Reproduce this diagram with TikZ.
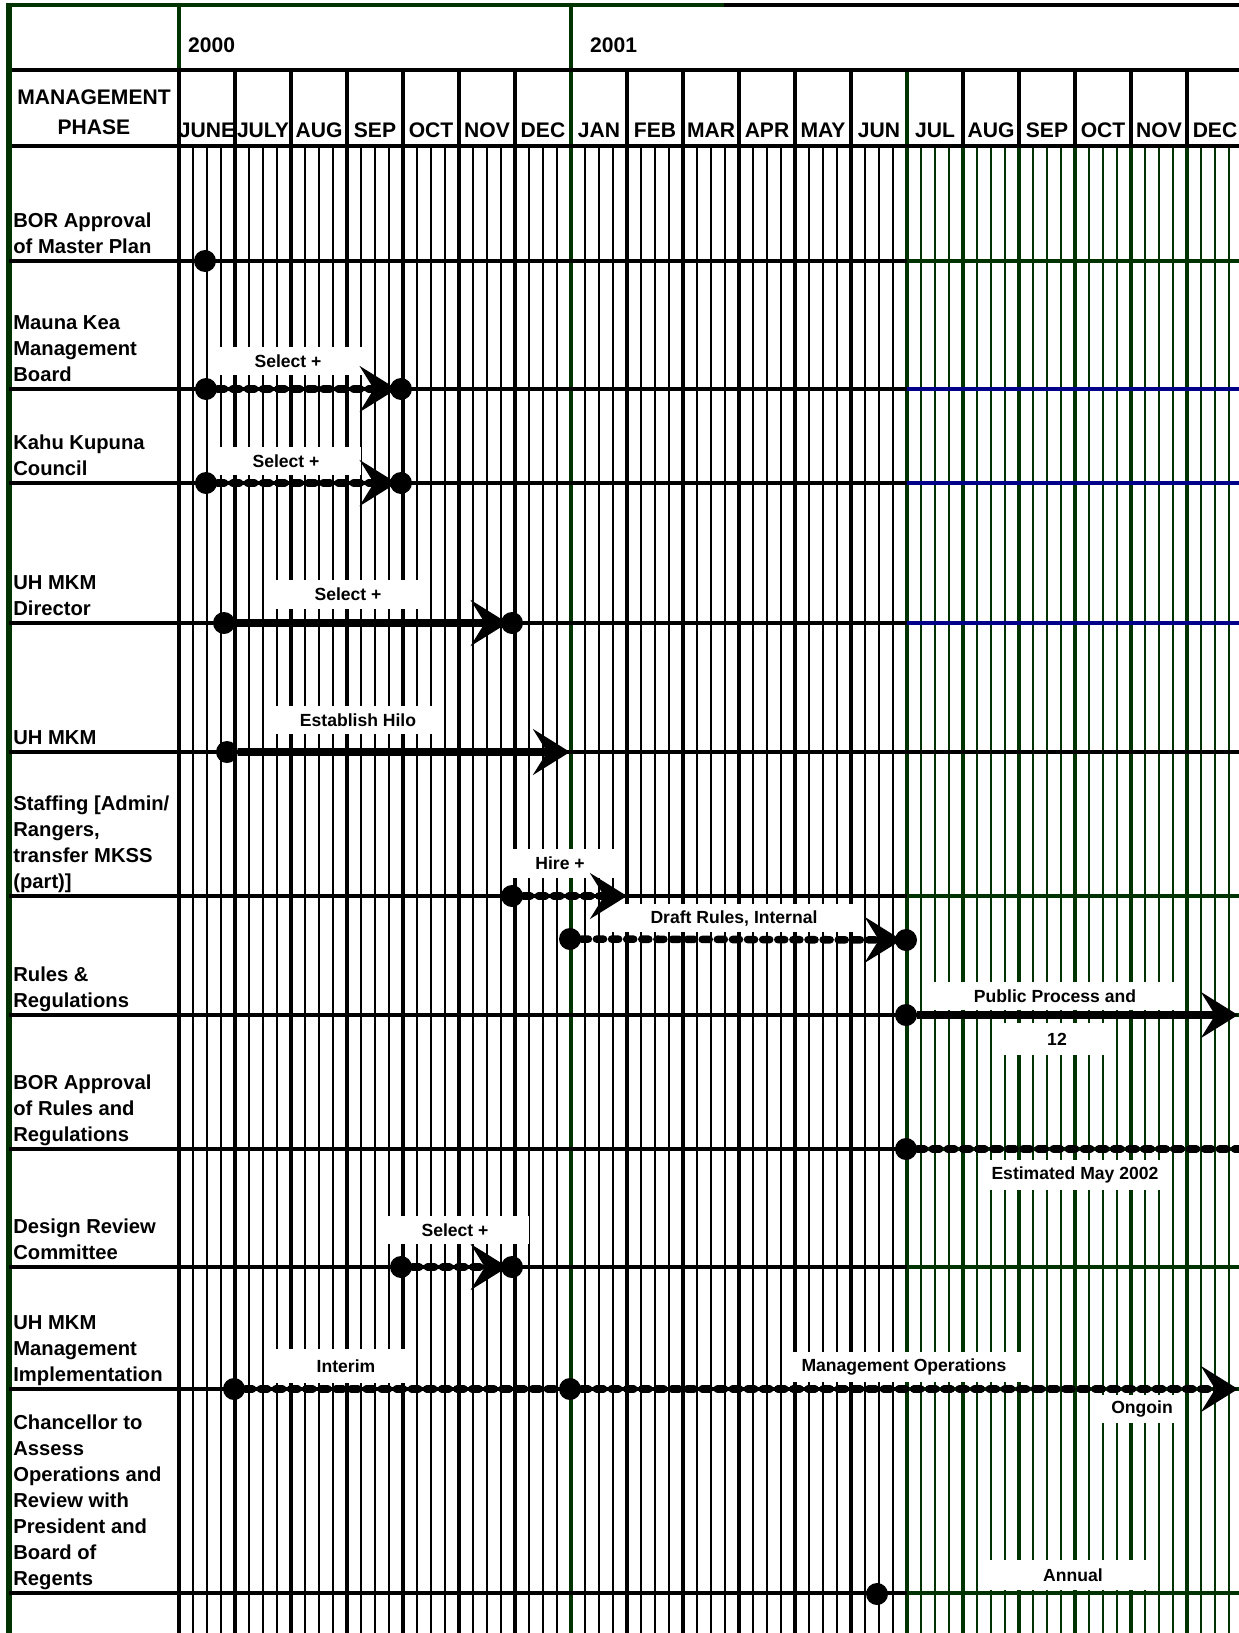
\documentclass[tikz,border=0pt]{standalone}
\usepackage{fontspec}
\setmainfont{Liberation Sans}
\usetikzlibrary{arrows.meta}

\definecolor{chartgreen}{RGB}{0,51,0}
\definecolor{chartblue}{RGB}{0,0,136}

\tikzset{
    monthlabel/.style={anchor=base, font=\fontsize{12}{17}\selectfont\bfseries},
    phaselabel/.style={anchor=south west, inner sep=0pt, align=left, font=\fontsize{11.5}{14.8}\selectfont\bfseries},
    barlabel/.style={fill=white, inner sep=0pt, font=\fontsize{10}{12}\selectfont\bfseries},
    milestone/.style={circle, fill=black, inner sep=0pt, minimum size=0.44cm},
    barline/.style={line width=4.3pt},
    bar/.style={barline, -{Stealth[length=21pt, width=26pt, inset=8pt]}},
    dashline/.style={barline, line cap=round, dash pattern=on 4pt off 4.6pt},
    dashbar/.style={dashline, -{Stealth[length=21pt, width=26pt, inset=8pt]}},
    tomilestone/.style={shorten >=-4pt},
}

\begin{document}
\begin{tikzpicture}[x=0.02cm, y=-0.02cm]
    \useasboundingbox (0,0) rectangle (1239,1633);

    % Header texts
    \node[monthlabel, anchor=base west] (y2000) at (182,52) {2000};
    \node[monthlabel, anchor=base west] (y2001) at (584,52) {2001};
    \node[monthlabel, anchor=south, align=center, inner sep=0pt] (phasehead) at (94,144) {MANAGEMENT\\PHASE\strut};
    \foreach \m [count=\k from 0] in {JUNE,JULY,AUG,SEP,OCT,NOV,DEC,JAN,FEB,MAR,APR,MAY,JUN,JUL,AUG,SEP,OCT,NOV,DEC}
        \node[monthlabel] (month\k) at (207+56*\k,137) {\m};

    % Week lines
    \foreach \k in {0,...,18} {
        \ifnum\k<13 \def\gc{black}\else\def\gc{chartgreen}\fi
        \foreach \j in {1,2,3}
            \draw[\gc, line width=1.1pt] (179+56*\k+14*\j,146) -- (179+56*\k+14*\j,1633);
    }

    % Month lines
    \foreach \k in {1,...,18} {
        \ifnum\k<13 \def\gc{black}\else\def\gc{chartgreen}\fi
        \draw[line width=1.9pt] (179+56*\k,70) -- (179+56*\k,146);
        \draw[\gc, line width=1.9pt] (179+56*\k,146) -- (179+56*\k,1633);
    }
    \draw[chartgreen, line width=1.9pt] (907,70) -- (907,146);

    % Year lines and frame
    \draw[chartgreen, line width=2.6pt] (179,5) -- (179,70);
    \draw[line width=2.6pt] (179,70) -- (179,1633);
    \draw[chartgreen, line width=2.6pt] (571,5) -- (571,1633);
    \draw[chartgreen, line width=2.8pt] (8,5) -- (724,5);
    \draw[line width=2.8pt] (724,5) -- (1239,5);
    \draw[line width=2.8pt] (8,70) -- (1239,70);
    \draw[line width=2.8pt] (8,146) -- (1239,146);
    \draw[chartgreen, line width=3pt] (9,3) -- (9,1633);

    % Row lines
    \foreach \y/\c in {261/chartgreen, 389/chartblue, 483/chartblue, 623/chartblue, 752/black,
                       896/chartgreen, 1015/chartgreen, 1149/chartgreen, 1267/chartgreen,
                       1389/chartgreen, 1593/chartgreen} {
        \draw[line width=1.9pt] (9,\y) -- (907,\y);
        \draw[\c, line width=1.9pt] (907,\y) -- (1239,\y);
    }

    % Phases
    \node[phaselabel] (borplan) at (13,262) {BOR Approval\\of Master Plan\strut};
    \node[phaselabel] (board) at (13,390) {Mauna Kea\\Management\\Board\strut};
    \node[phaselabel] (council) at (13,484) {Kahu Kupuna\\Council\strut};
    \node[phaselabel] (director) at (13,624) {UH MKM\\Director\strut};
    \node[phaselabel] (office) at (13,753) {UH MKM\strut};
    \node[phaselabel] (staffing) at (13,897) {Staffing [Admin/\\Rangers,\\transfer MKSS\\(part)]\strut};
    \node[phaselabel] (rules) at (13,1016) {Rules \&\\Regulations\strut};
    \node[phaselabel] (borrules) at (13,1150) {BOR Approval\\of Rules and\\Regulations\strut};
    \node[phaselabel] (design) at (13,1268) {Design Review\\Committee\strut};
    \node[phaselabel] (mgmt) at (13,1390) {UH MKM\\Management\\Implementation\strut};
    \node[phaselabel] (chancellor) at (13,1594) {Chancellor to\\Assess\\Operations and\\Review with\\President and\\Board of\\Regents\strut};

    % Bar labels
    \node[barlabel, minimum width=3cm, minimum height=0.56cm] (boardsel) at (288,361) {Select +};
    \node[barlabel, minimum width=3cm, minimum height=0.56cm] (councilsel) at (286,461) {Select +};
    \node[barlabel, minimum width=2.96cm, minimum height=0.58cm] (directorsel) at (348,594) {Select +};
    \node[barlabel, minimum width=3.44cm, minimum height=0.56cm] (hilo) at (358,720) {Establish Hilo};
    \node[barlabel, minimum width=2.22cm, minimum height=0.58cm] (hire) at (560,863) {Hire +};
    \node[barlabel, minimum width=5cm, minimum height=0.56cm] (draft) at (734,918) {Draft Rules, Internal};
    \node[barlabel, minimum width=5cm, minimum height=0.56cm] (public) at (1055,996) {Public Process and};
    \node[barlabel, minimum width=2.16cm, minimum height=0.64cm] (twelve) at (1057,1039) {12};
    \node[barlabel, minimum width=3.86cm, minimum height=0.6cm] (estimated) at (1075,1175) {Estimated May 2002};
    \node[barlabel, minimum width=2.98cm, minimum height=0.56cm] (designsel) at (455,1230) {Select +};
    \node[barlabel, minimum width=2.8cm, minimum height=0.68cm] (interim) at (346,1366) {Interim};
    \node[barlabel, minimum width=4.8cm, minimum height=0.6cm] (operations) at (904,1367) {Management Operations};
    \node[barlabel, minimum width=1.68cm, minimum height=0.56cm] (ongoin) at (1142,1409) {Ongoin};
    \node[barlabel, minimum width=3.32cm, minimum height=0.6cm] (annual) at (1073,1575) {Annual};

    % Milestones
    \node[milestone] (borplan1) at (205,261) {};
    \node[milestone] (board1) at (206,389) {};
    \node[milestone] (board2) at (401,389) {};
    \node[milestone] (council1) at (206,483) {};
    \node[milestone] (council2) at (401,483) {};
    \node[milestone] (director1) at (224,623) {};
    \node[milestone] (director2) at (512,623) {};
    \node[milestone] (office1) at (227,752) {};
    \node[milestone] (staffing1) at (512,896) {};
    \node[milestone] (draft1) at (570,939) {};
    \node[milestone] (draft2) at (906,940) {};
    \node[milestone] (rules1) at (906,1015) {};
    \node[milestone] (borrules1) at (906,1149) {};
    \node[milestone] (design1) at (401,1267) {};
    \node[milestone] (design2) at (512,1267) {};
    \node[milestone] (mgmt1) at (234,1389) {};
    \node[milestone] (mgmt2) at (570,1389) {};
    \node[milestone] (chancellor1) at (877,1594) {};

    \coordinate (officeend) at (570,752);
    \coordinate (staffingend) at (627,896);
    \coordinate (rulesend) at (1238,1015);
    \coordinate (borrulesend) at (1239,1149);
    \coordinate (mgmtend) at (1238,1389);

    % Bars
    \draw[dashbar, tomilestone] (board1) -- (board2);
    \draw[dashbar, tomilestone] (council1) -- (council2);
    \draw[bar, tomilestone] (director1) -- (director2);
    \draw[bar] (office1) -- (officeend);
    \draw[dashbar] (staffing1) -- (staffingend);
    \draw[dashbar, tomilestone] (draft1) -- (draft2);
    \draw[bar] (rules1) -- (rulesend);
    \draw[dashline] (borrules1) -- (borrulesend);
    \draw[dashbar, tomilestone] (design1) -- (design2);
    \draw[dashline] (mgmt1) -- (mgmt2);
    \draw[dashbar] (mgmt2) -- (mgmtend);
\end{tikzpicture}
\end{document}
